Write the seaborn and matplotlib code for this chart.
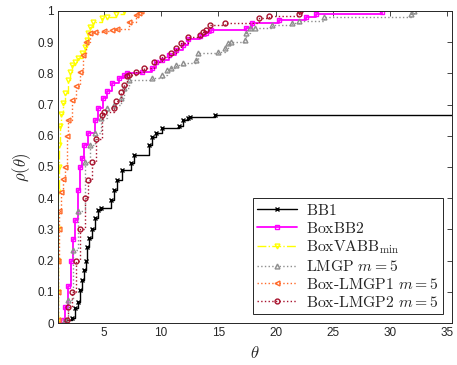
import matplotlib
matplotlib.use("Agg")
import matplotlib.pyplot as plt
import seaborn as sns
import pandas as pd

# ---- data ----
bb1_theta = [1.60, 2.21, 2.47, 2.72, 2.90, 3.07, 3.24, 3.41, 3.50, 3.67, 3.93, 4.19, 4.45,
             4.79, 5.66, 5.91, 6.17, 6.60, 7.38, 7.64, 8.93, 9.19, 9.53, 10.05, 11.52,
             11.95, 12.38, 12.55, 14.71, 36.0]
bb1_rho = [0.01, 0.016, 0.048, 0.067, 0.106, 0.138, 0.17, 0.20, 0.244, 0.272, 0.30, 0.336,
           0.362, 0.369, 0.394, 0.426, 0.458, 0.49, 0.513, 0.538, 0.57, 0.597, 0.61, 0.625,
           0.63, 0.65, 0.657, 0.66, 0.667, 0.667]

boxbb2_theta = [1.43, 1.60, 1.86, 2.10, 2.30, 2.47, 2.72, 2.90, 3.07, 3.30, 3.60, 4.20, 4.45,
                4.90, 5.25, 5.70, 6.35, 6.80, 7.00, 8.33, 9.19, 9.53, 10.05, 10.66, 11.34,
                11.95, 12.38, 13.41, 13.93, 14.36, 17.38, 17.98, 20.31, 22.64, 23.50, 29.30]
boxbb2_rho = [0.01, 0.05, 0.12, 0.20, 0.27, 0.33, 0.426, 0.50, 0.53, 0.57, 0.61, 0.65, 0.69,
              0.72, 0.745, 0.77, 0.785, 0.795, 0.80, 0.805, 0.817, 0.837, 0.843, 0.86, 0.875,
              0.89, 0.91, 0.92, 0.93, 0.94, 0.946, 0.962, 0.971, 0.98, 0.99, 0.997]

vabb_theta = [1.0, 1.0, 1.0, 1.0, 1.0, 1.05, 1.10, 1.20, 1.30, 1.43, 1.60, 1.86, 2.03, 2.20,
              2.47, 2.72, 3.07, 3.33, 3.50, 3.59, 3.76, 4.02, 4.80, 5.30, 6.10, 6.80]
vabb_rho = [0.01, 0.10, 0.20, 0.30, 0.42, 0.50, 0.57, 0.63, 0.67, 0.705, 0.737, 0.779, 0.804,
            0.827, 0.837, 0.849, 0.865, 0.885, 0.907, 0.93, 0.949, 0.965, 0.977, 0.98, 0.99, 1.0]

lmgp_theta = [1.60, 1.86, 2.30, 2.72, 3.33, 3.76, 4.19, 4.79, 5.31, 5.91, 6.52, 6.78, 7.21,
              9.19, 10.05, 10.48, 10.83, 11.34, 11.95, 13.07, 13.24, 14.97, 15.57, 15.83,
              16.09, 17.29, 17.38, 17.72, 18.24, 19.71, 21.43, 22.03, 24.19, 31.78, 32.12]
lmgp_rho = [0.01, 0.074, 0.234, 0.36, 0.516, 0.57, 0.61, 0.656, 0.69, 0.70, 0.72, 0.753, 0.78,
            0.785, 0.795, 0.81, 0.817, 0.827, 0.833, 0.843, 0.865, 0.869, 0.88, 0.897, 0.90,
            0.907, 0.93, 0.945, 0.946, 0.955, 0.96, 0.968, 0.98, 0.99, 1.0]

lmgp1_theta = [1.0, 1.0, 1.0, 1.05, 1.10, 1.25, 1.43, 1.60, 1.78, 1.86, 2.20, 2.55, 2.90,
               3.15, 3.40, 3.76, 4.19, 5.05, 5.74, 6.17, 7.20, 7.81, 8.07, 8.24]
lmgp1_rho = [0.01, 0.10, 0.20, 0.30, 0.36, 0.42, 0.46, 0.50, 0.60, 0.65, 0.715, 0.76, 0.805,
             0.86, 0.90, 0.93, 0.932, 0.935, 0.94, 0.942, 0.965, 0.987, 0.995, 1.0]

lmgp2_theta = [1.75, 1.90, 2.20, 2.55, 2.90, 3.33, 3.59, 4.00, 4.30, 4.80, 5.05, 5.91, 6.09,
               6.52, 6.78, 7.03, 7.21, 7.81, 8.50, 9.36, 10.05, 10.83, 11.26, 11.78, 12.38,
               13.41, 13.67, 13.93, 14.28, 15.57, 18.59, 19.45, 22.03, 22.12]
lmgp2_rho = [0.01, 0.05, 0.10, 0.20, 0.30, 0.40, 0.458, 0.516, 0.59, 0.667, 0.676, 0.69, 0.71,
             0.74, 0.763, 0.79, 0.795, 0.805, 0.817, 0.837, 0.853, 0.865, 0.88, 0.897, 0.917,
             0.923, 0.933, 0.94, 0.955, 0.96, 0.977, 0.984, 0.99, 1.0]

x_ticks = [5, 10, 15, 20, 25, 30, 35]
y_ticks = [0, 0.1, 0.2, 0.3, 0.4, 0.5, 0.6, 0.7, 0.8, 0.9, 1]
y_tick_labels = ["0", "0.1", "0.2", "0.3", "0.4", "0.5", "0.6", "0.7", "0.8", "0.9", "1"]

series = [
    (r"$\mathrm{BB1}$", bb1_theta, bb1_rho, "black", "-", "x", 2.5, 1.0),
    (r"$\mathrm{BoxBB2}$", boxbb2_theta, boxbb2_rho, "#FF00FF", "-", "s", 3.0, 1.3),
    (r"$\mathrm{BoxVABB}_{\min}$", vabb_theta, vabb_rho, "#FFFF00", "-.", "v", 3.5, 1.0),
    (r"$\mathrm{LMGP}\ m=5$", lmgp_theta, lmgp_rho, "#8E8E8E", ":", "^", 3.5, 1.0),
    (r"$\mathrm{Box\text{-}LMGP1}\ m=5$", lmgp1_theta, lmgp1_rho, "#FF6A2A", ":", "<", 3.5, 1.0),
    (r"$\mathrm{Box\text{-}LMGP2}\ m=5$", lmgp2_theta, lmgp2_rho, "#A8132E", ":", "o", 3.5, 1.0),
]

sns.set_theme(style="white")
plt.rcParams["mathtext.fontset"] = "cm"
plt.rcParams["font.family"] = ["Liberation Sans", "DejaVu Sans"]

fig = plt.figure(figsize=(4.57, 3.65), dpi=100)
ax = fig.add_axes([0.127, 0.115, 0.862, 0.855])

for label, th, rh, col, ls, mk, ms, lw in series:
    df = pd.DataFrame({"theta": th, "rho": rh})
    sns.lineplot(data=df, x="theta", y="rho", ax=ax, estimator=None, sort=False,
                 drawstyle="steps-post", color=col, linestyle=ls, linewidth=lw,
                 marker=mk, markersize=ms, markerfacecolor="none", markeredgecolor=col,
                 markeredgewidth=1.0, label=label)

ax.set_xlim(1, 35.4)
ax.set_ylim(0, 1)
ax.set_xticks(x_ticks)
ax.set_yticks(y_ticks)
ax.set_yticklabels(y_tick_labels)
ax.tick_params(direction="in", top=True, right=True, length=3.5, width=0.6,
               labelsize=8.5, colors="#262626", pad=3)
for s in ax.spines.values():
    s.set_color("#262626")
    s.set_linewidth(0.7)
ax.set_xlabel(r"$\theta$", fontsize=12, labelpad=4)
ax.set_ylabel(r"$\rho(\theta)$", fontsize=12, labelpad=3)

leg = ax.legend(loc="lower right", fontsize=11.3, frameon=True, fancybox=False,
                edgecolor="#262626", framealpha=1, borderaxespad=0.55, handlelength=2.5,
                handletextpad=0.6, labelspacing=0.18, borderpad=0.3)
leg.get_frame().set_linewidth(0.7)

fig.savefig("out.png", dpi=100)
